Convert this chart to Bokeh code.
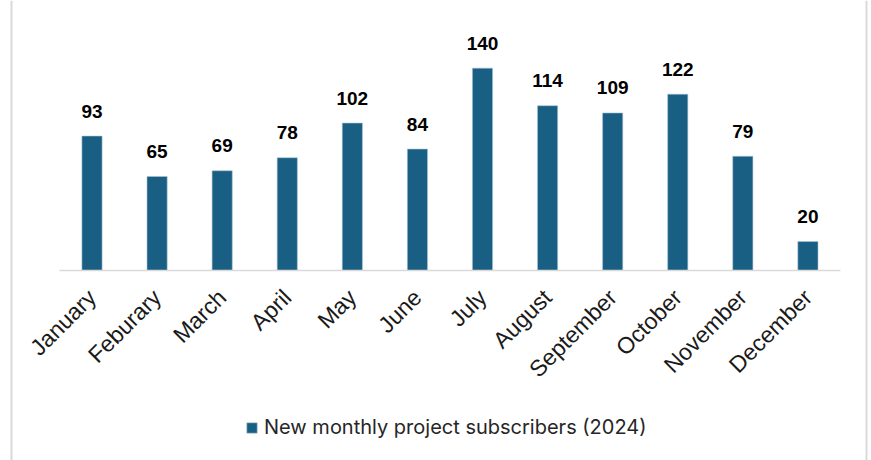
from math import pi
from bokeh.plotting import figure
from bokeh.models import (ColumnDataSource, Range1d, Legend, LegendItem, Span,
                          FixedTicker)
from bokeh.core.properties import value
from bokeh.embed import file_html
from bokeh.resources import INLINE

months = ["January", "Feburary", "March", "April", "May", "June", "July",
          "August", "September", "October", "November", "December"]
subscribers = [93, 65, 69, 78, 102, 84, 140, 114, 109, 122, 79, 20]
series_name = "New monthly project subscribers (2024)"

BAR = "#195e83"

idx = list(range(len(months)))
src = ColumnDataSource(dict(x=idx, val=subscribers,
                            lab=[str(v) for v in subscribers]))

p = figure(x_range=Range1d(-1.406, 11.977), y_range=Range1d(-131.5, 186.8),
           width=871, height=460, output_backend="svg", toolbar_location=None,
           min_border_left=0, min_border_right=0, min_border_top=0, min_border_bottom=0)

r = p.vbar(x="x", top="val", width=0.31, source=src, fill_color=BAR,
           line_color="#a9c4d3", line_width=0.6)
p.text(x="x", y="val", text="lab", source=src, text_align="center",
       text_baseline="alphabetic", y_offset=-25, text_font=value("Liberation Sans"),
       text_font_style="bold", text_font_size="19px", text_color="#000000")

p.yaxis.visible = False
p.xgrid.grid_line_color = None
p.ygrid.grid_line_color = None
p.outline_line_color = None
p.xaxis.fixed_location = 0
p.xaxis.ticker = FixedTicker(ticks=idx)
p.xaxis.major_label_overrides = {i: m for i, m in zip(idx, months)}
p.xaxis.axis_line_color = None
p.xaxis.major_tick_line_color = None
p.xaxis.minor_tick_line_color = None
p.xaxis.major_label_orientation = pi / 4
p.xaxis.major_label_text_font = "Liberation Sans"
p.xaxis.major_label_text_font_size = "23px"
p.xaxis.major_label_text_color = "#1a1a1a"
p.xaxis.major_label_standoff = 17

# category axis baseline spanning the full set of categories
p.segment(x0=[idx[0] - 0.5], x1=[idx[-1] + 0.5], y0=[0], y1=[0],
          line_color="#d9d9d9", line_width=1.5)

p.add_layout(Span(location=11, dimension="height", location_units="screen",
                  line_color="#d9d9d9", line_width=2))
p.add_layout(Span(location=866, dimension="height", location_units="screen",
                  line_color="#d9d9d9", line_width=2))

legend = Legend(items=[LegendItem(label=series_name, renderers=[r])],
                orientation="horizontal", location=(245, 21),
                label_text_font="Inter", label_text_font_size="20px",
                label_text_color="#262626", glyph_width=13, glyph_height=13,
                border_line_color=None, background_fill_alpha=0,
                margin=0, padding=0, label_standoff=6)
p.add_layout(legend, "center")

open("out.html", "w").write(file_html(p, INLINE))
